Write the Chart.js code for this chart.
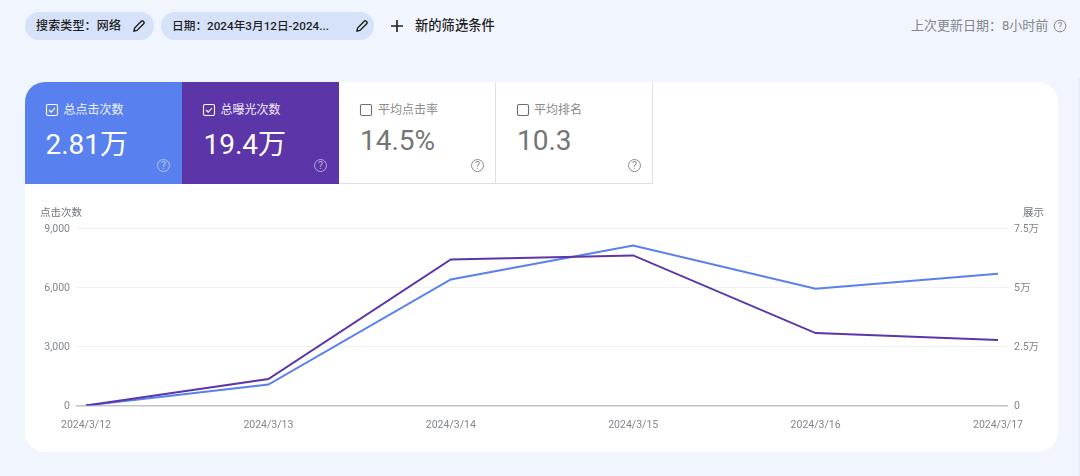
<!DOCTYPE html>
<html lang="zh"><head><meta charset="utf-8">
<script src="https://cdn.jsdelivr.net/npm/chart.js@4"></script>
<style>
*{box-sizing:border-box}
html,body{margin:0;padding:0;width:1080px;height:476px;overflow:hidden;background:#f1f5fe;font-family:Roboto,"Noto Sans CJK SC",sans-serif}
.a{position:absolute;white-space:nowrap}
.chip{position:absolute;top:12px;height:28px;background:#d5e2fa;border-radius:14px;color:#1f1f1f;font-size:12px;line-height:28px;font-weight:500}
#card{position:absolute;left:25px;top:82px;width:1033px;height:370px;background:#fff;border-radius:20px}
.tile{position:absolute;top:82px;height:102px}
.lbl{position:absolute;top:19px;font-size:12px;line-height:18px;white-space:nowrap}
.val{position:absolute;font-size:28px;line-height:34px;white-space:nowrap}
svg{position:absolute;display:block}
canvas{position:absolute;left:0;top:0}
</style></head><body>
<div id="card"></div>
<div class="a" style="left:1078px;top:78px;width:2px;height:398px;background:#e9edf8"></div>

<div class="chip" style="left:25px;width:129px"><span class="a" style="left:11px;letter-spacing:.15px">搜索类型：网络</span>
<svg style="left:107px;top:7px" width="14" height="14" viewBox="0 0 14 14"><path d="M2 12l.6-3L9.5 2.1a1 1 0 0 1 1.4 0l1 1a1 1 0 0 1 0 1.4L5 11.4z" fill="none" stroke="#1f1f1f" stroke-width="1.4"/></svg></div>
<div class="chip" style="left:161px;width:213px"><span class="a" style="left:11px;font-size:11.7px">日期：2024年3月12日-2024...</span>
<svg style="left:194px;top:7px" width="14" height="14" viewBox="0 0 14 14"><path d="M2 12l.6-3L9.5 2.1a1 1 0 0 1 1.4 0l1 1a1 1 0 0 1 0 1.4L5 11.4z" fill="none" stroke="#1f1f1f" stroke-width="1.4"/></svg></div>
<svg style="left:390px;top:19px" width="14" height="14" viewBox="0 0 14 14"><path d="M7 1v12M1 7h12" stroke="#1f1f1f" stroke-width="1.6"/></svg>
<div class="a" style="left:415px;top:17px;font-size:13.3px;line-height:18px;font-weight:500;color:#1f1f1f">新的筛选条件</div>
<div class="a" style="left:911px;top:17px;font-size:13px;line-height:18px;color:#80868b">上次更新日期：8小时前</div>
<svg style="left:1053px;top:19px" width="14" height="14" viewBox="0 0 14 14"><circle cx="7" cy="7" r="5.8" fill="none" stroke="#80868b" stroke-width="1"/><text x="7" y="10.2" font-size="9.5" text-anchor="middle" fill="#80868b">?</text></svg>

<div class="tile" style="left:25px;width:157px;background:#5881ef;border-top-left-radius:20px">
<svg style="left:20px;top:21px" width="14" height="14" viewBox="0 0 14 14"><rect x="1.5" y="1.5" width="11" height="11" rx="1.5" fill="none" stroke="#fff" stroke-width="1.1"/><path d="M4 7l2.2 2.2L10 5" fill="none" stroke="#fff" stroke-width="1.1"/></svg>
<div class="lbl" style="left:38.5px;color:#f1f4fe">总点击次数</div>
<div class="val" style="left:20.5px;top:46px;color:#fff">2.81万</div>
<svg style="left:131px;top:76px" width="15" height="15" viewBox="0 0 15 15"><circle cx="7.5" cy="7.5" r="6" fill="none" stroke="#fff" stroke-opacity=".55" stroke-width="1"/><text x="7.5" y="11" font-size="10.5" text-anchor="middle" fill="#fff" fill-opacity=".6">?</text></svg>
</div>
<div class="tile" style="left:182px;width:157px;background:#5c35a8">
<svg style="left:20px;top:21px" width="14" height="14" viewBox="0 0 14 14"><rect x="1.5" y="1.5" width="11" height="11" rx="1.5" fill="none" stroke="#fff" stroke-width="1.1"/><path d="M4 7l2.2 2.2L10 5" fill="none" stroke="#fff" stroke-width="1.1"/></svg>
<div class="lbl" style="left:38.5px;color:#f1eefa">总曝光次数</div>
<div class="val" style="left:21.5px;top:46px;color:#fff">19.4万</div>
<svg style="left:131px;top:76px" width="15" height="15" viewBox="0 0 15 15"><circle cx="7.5" cy="7.5" r="6" fill="none" stroke="#fff" stroke-opacity=".55" stroke-width="1"/><text x="7.5" y="11" font-size="10.5" text-anchor="middle" fill="#fff" fill-opacity=".6">?</text></svg>
</div>
<div class="tile" style="left:339px;width:157px;background:#fff;border-right:1px solid #e0e0e0;border-bottom:1px solid #e0e0e0">
<svg style="left:20px;top:21px" width="14" height="14" viewBox="0 0 14 14"><rect x="1.5" y="1.5" width="11" height="11" rx="1.5" fill="none" stroke="#6d6d6d" stroke-width="1.1"/></svg>
<div class="lbl" style="left:39px;color:#8a8a8a">平均点击率</div>
<div class="val" style="left:21px;top:42px;color:#757575">14.5%</div>
<svg style="left:131px;top:76px" width="15" height="15" viewBox="0 0 15 15"><circle cx="7.5" cy="7.5" r="6" fill="none" stroke="#8a8a8a" stroke-width="1"/><text x="7.5" y="11" font-size="10.5" text-anchor="middle" fill="#8a8a8a">?</text></svg>
</div>
<div class="tile" style="left:496px;width:157px;background:#fff;border-right:1px solid #e0e0e0;border-bottom:1px solid #e0e0e0">
<svg style="left:20px;top:21px" width="14" height="14" viewBox="0 0 14 14"><rect x="1.5" y="1.5" width="11" height="11" rx="1.5" fill="none" stroke="#6d6d6d" stroke-width="1.1"/></svg>
<div class="lbl" style="left:38px;color:#8a8a8a">平均排名</div>
<div class="val" style="left:21px;top:42px;color:#757575">10.3</div>
<svg style="left:131px;top:76px" width="15" height="15" viewBox="0 0 15 15"><circle cx="7.5" cy="7.5" r="6" fill="none" stroke="#8a8a8a" stroke-width="1"/><text x="7.5" y="11" font-size="10.5" text-anchor="middle" fill="#8a8a8a">?</text></svg>
</div>

<canvas id="c" width="1080" height="476"></canvas>
<div class="a" style="left:40px;top:206px;font-size:10.5px;line-height:14px;color:#70757a">点击次数</div>
<div class="a" style="left:1023px;top:206px;font-size:10.5px;line-height:14px;color:#70757a">展示</div>

<script>
const categories = ["2024/3/12","2024/3/13","2024/3/14","2024/3/15","2024/3/16","2024/3/17"];
const clicks = [0,1060,6390,8110,5920,6680];
const impressions = [0,11200,61700,63400,30600,27700];
const clickTicks = [0,3000,6000,9000];
const impressionTicks = [0,25000,50000,75000];
const impressionLabels = {0:"0",25000:"2.5万",50000:"5万",75000:"7.5万"};
const FONT = 'Roboto,"Noto Sans CJK SC",sans-serif';
const tickFont = {family:FONT,size:10.5};
const gridColor = c => c.tick && c.tick.value===0 ? '#c4c4c4' : '#f0f1f3';
const gridWidth = c => c.tick && c.tick.value===0 ? 1.6 : 1;

new Chart(document.getElementById('c'),{
  type:'line',
  data:{labels:categories,datasets:[
    {label:'总曝光次数',data:impressions,yAxisID:'y1',borderColor:'#5c35a8',borderWidth:2,pointRadius:0,tension:0},
    {label:'总点击次数',data:clicks,yAxisID:'y',borderColor:'#5881ef',borderWidth:2,pointRadius:0,tension:0}
  ]},
  options:{
    responsive:false,animation:false,devicePixelRatio:1,
    layout:{padding:{top:228,left:0,right:0,bottom:0}},
    plugins:{legend:{display:false},tooltip:{enabled:false}},
    scales:{
      x:{type:'category',offset:false,
        grid:{display:false},border:{display:false},
        ticks:{color:'#80868b',font:tickFont,maxRotation:0,autoSkip:false,padding:6},
        afterFit(s){s.height=70.5}},
      y:{position:'left',min:0,max:9000,
        afterBuildTicks(s){s.ticks=clickTicks.map(v=>({value:v}))},
        afterFit(s){s.width=86},
        border:{display:false},
        grid:{color:gridColor,tickColor:gridColor,tickLength:10,lineWidth:gridWidth},
        ticks:{color:'#80868b',font:tickFont,padding:6,labelOffset:1,callback:v=>v.toLocaleString('en-US')}},
      y1:{position:'right',min:0,max:75000,
        afterBuildTicks(s){s.ticks=impressionTicks.map(v=>({value:v}))},
        afterFit(s){s.width=82},
        border:{display:false},
        grid:{drawOnChartArea:false,color:gridColor,tickColor:gridColor,tickLength:10,lineWidth:gridWidth},
        ticks:{color:'#80868b',font:tickFont,padding:6,labelOffset:1,callback:v=>impressionLabels[v]}}
    }
  }
});
</script>
</body></html>
